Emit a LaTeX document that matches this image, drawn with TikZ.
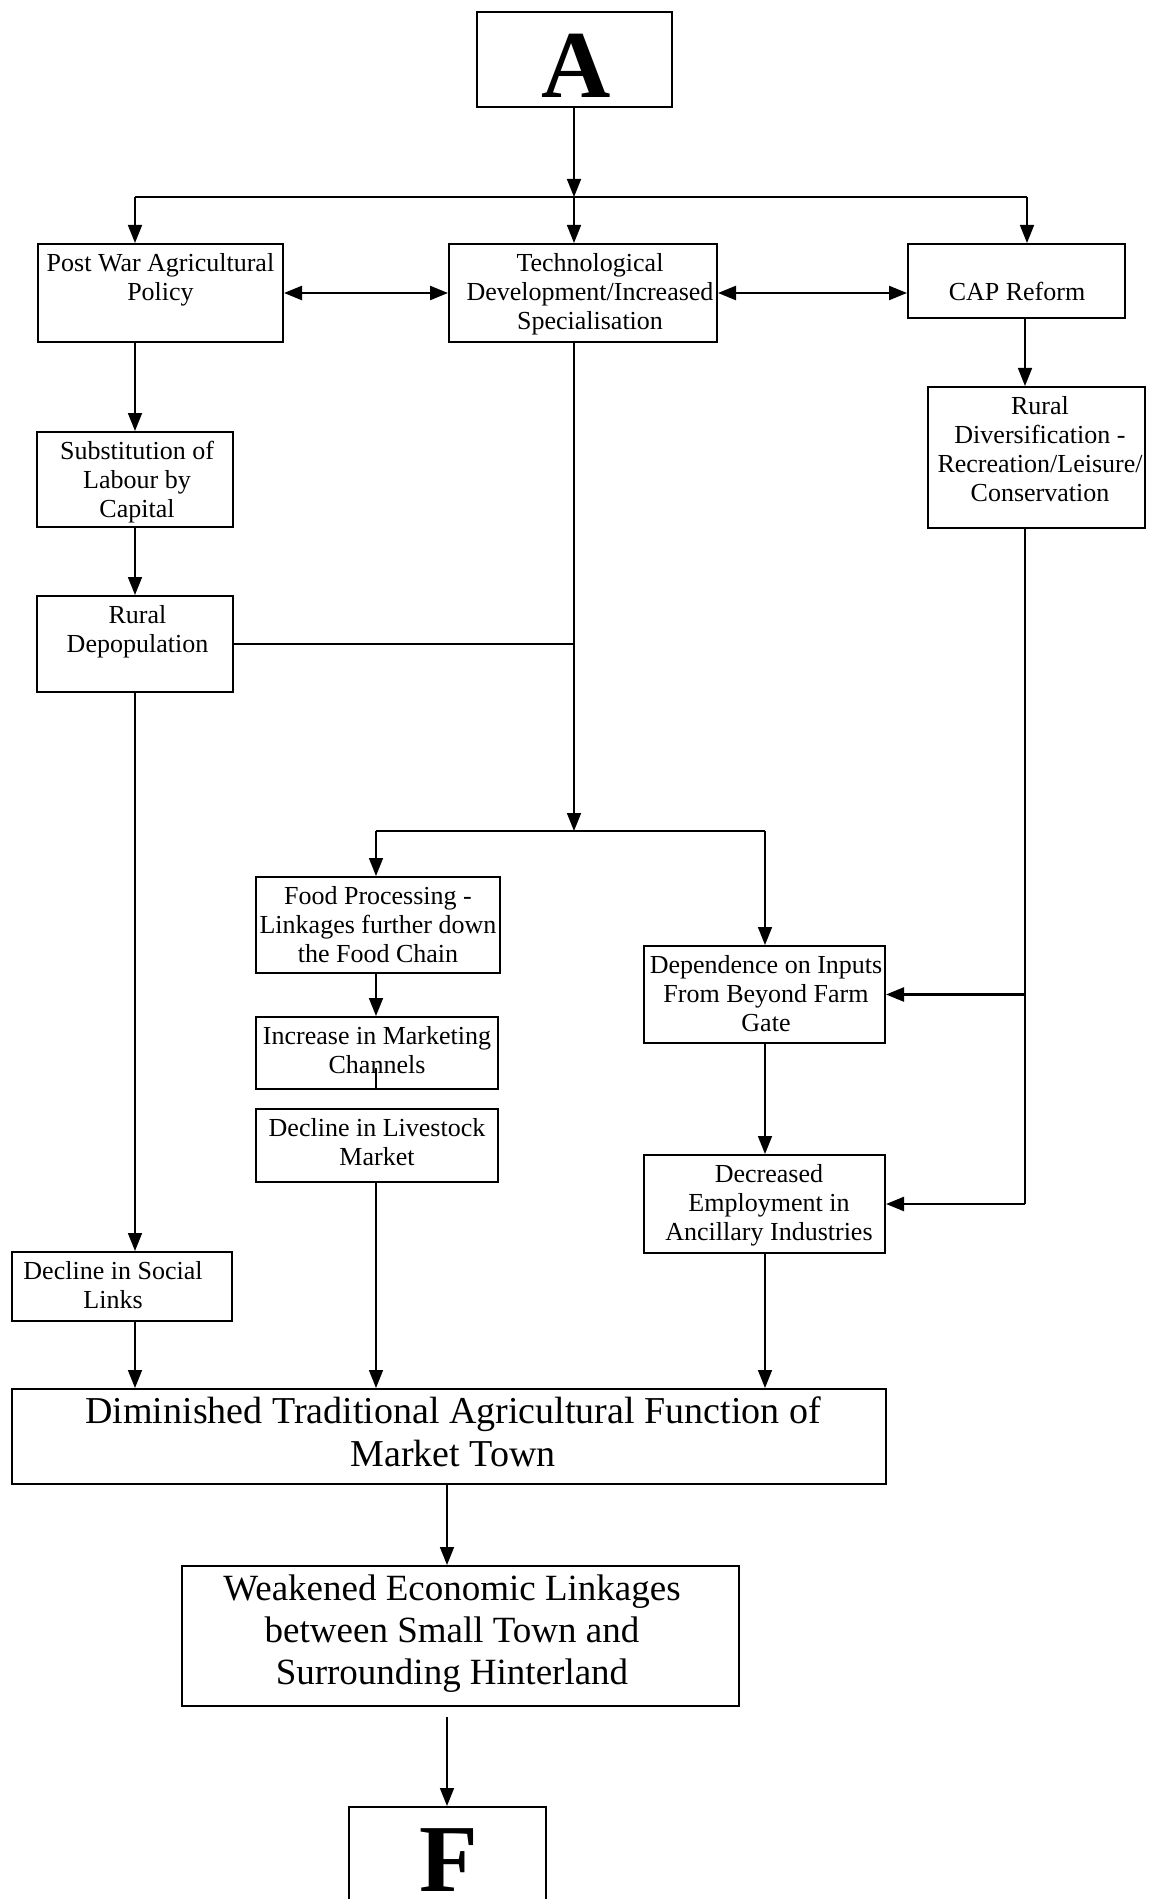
\documentclass[tikz,border=0pt]{standalone}
\usepackage{fontspec}
\setmainfont{Liberation Serif}
\usetikzlibrary{arrows.meta}
% struts fixing the first baseline below the top of each box
\newcommand\boxstrut{\rule{0pt}{13.5pt}}
\newcommand\wideboxstrut{\rule{0pt}{17pt}}
\begin{document}
\begin{tikzpicture}[x=0.5pt,y=-0.5pt,
  box/.style={draw, rectangle, line width=1pt, inner sep=0pt},
  small/.style={align=center, inner sep=0pt, anchor=north,
    font=\fontsize{13}{14.5}\selectfont},
  big/.style={align=center, inner sep=0pt, anchor=north},
  letter/.style={anchor=base, inner sep=0pt,
    font=\fontsize{48}{48}\selectfont\bfseries},
  link/.style={line width=0.8pt},
  hlink/.style={line width=1.2pt},
  arr/.style={-{Triangle[length=9pt,width=7pt]}},
  darr/.style={{Triangle[length=9pt,width=7pt]}-{Triangle[length=9pt,width=7pt]}},
]
\useasboundingbox (0,0) rectangle (1148,1899);

% ---- boxes ----
\node[box, minimum width=97.5pt, minimum height=47.5pt]  (A)     at (574,59.5)    {};
\node[box, minimum width=122.5pt, minimum height=49pt]   (pw)    at (160.5,293)   {};
\node[box, minimum width=134pt, minimum height=49pt]     (tech)  at (583,293)     {};
\node[box, minimum width=108.5pt, minimum height=37pt]   (cap)   at (1016.5,281)  {};
\node[box, minimum width=98pt, minimum height=47.5pt]    (subst) at (135,479.5)   {};
\node[box, minimum width=98pt, minimum height=48pt]      (depop) at (135,644)     {};
\node[box, minimum width=108.5pt, minimum height=70.5pt] (rdiv)  at (1036.5,457.5){};
\node[box, minimum width=122pt, minimum height=48pt]     (food)  at (378,925)     {};
\node[box, minimum width=120.5pt, minimum height=48.5pt] (dep)   at (764.5,994.5) {};
\node[box, minimum width=121pt, minimum height=36pt]     (inc)   at (377,1053)    {};
\node[box, minimum width=121pt, minimum height=36.5pt]   (liv)   at (377,1145.5)  {};
\node[box, minimum width=120.5pt, minimum height=49pt]   (decr)  at (764.5,1204)  {};
\node[box, minimum width=110pt, minimum height=34.5pt]   (soc)   at (122,1286.5)  {};
\node[box, minimum width=437pt, minimum height=47.5pt]   (dim)   at (449,1436.5)  {};
\node[box, minimum width=278.5pt, minimum height=70pt]   (weak)  at (460.5,1636)  {};
\node[box, minimum width=98.5pt, minimum height=47.5pt]  (F)     at (447.5,1854.5){};

% ---- texts ----
\node[letter] (At) at (576,98) {A};
\node[small] (pwt)    at (160.5,244) {\boxstrut Post War Agricultural\\Policy};
\node[small] (techt)  at (590,244)   {\boxstrut Technological\\Development/Increased\\Specialisation};
\node[small, yshift=-14.5pt] (capt) at (1017,244) {\boxstrut CAP Reform};
\node[small] (substt) at (137,432)   {\boxstrut Substitution of\\Labour by\\Capital};
\node[small] (depopt) at (137.5,596) {\boxstrut Rural\\Depopulation};
\node[small] (rdivt)  at (1040,387)  {\boxstrut Rural\\Diversification -\\Recreation/Leisure/\\Conservation};
\node[small] (foodt)  at (378,877)   {\boxstrut Food Processing -\\Linkages further down\\the Food Chain};
\node[small] (dept)   at (766,946)   {\boxstrut Dependence on Inputs\\From Beyond Farm\\Gate};
\node[small] (inct)   at (377,1017)  {\boxstrut Increase in Marketing\\Channels};
\node[small] (livt)   at (377,1109)  {\boxstrut Decline in Livestock\\Market};
\node[small] (decrt)  at (769,1155)  {\boxstrut Decreased\\Employment in\\Ancillary Industries};
\node[small] (soct)   at (113,1252)  {\boxstrut Decline in Social\\Links};
\node[big, font=\fontsize{19}{21.5}\selectfont] (dimt) at (453,1389)
  {\wideboxstrut Diminished Traditional Agricultural Function of\\Market Town};
\node[big, font=\fontsize{18.5}{21}\selectfont] (weakt) at (452,1566)
  {\wideboxstrut Weakened Economic Linkages\\between Small Town and\\Surrounding Hinterland};
\node[letter] (Ft) at (449,1891) {F};

% ---- junction points ----
\coordinate (split) at (574,197);
\coordinate (jl)    at (135,197);
\coordinate (jr)    at (1027,197);
\coordinate (tdown) at (574,831);
\coordinate (bl)    at (376,831);
\coordinate (br)    at (765,831);
\coordinate (chn)   at (376,1068);
\coordinate (rx)    at (1025,0);
\coordinate (rb)    at (1025,1204);
\coordinate (mx)    at (447,0);

% ---- connectors ----
\draw[link,arr] (A.south) -- (split);
\draw[hlink] (jl) -- (jr);
\draw[link,arr] (jl) -- (jl |- pw.north);
\draw[link,arr] (split) -- (split |- tech.north);
\draw[link,arr] (jr) -- (jr |- cap.north);
\draw[hlink,darr] (pw.east) -- (tech.west);
\draw[hlink,darr] (tech.east) -- (tech.east -| cap.west);

\draw[link,arr] (subst.north |- pw.south) -- (subst.north);
\draw[link,arr] (subst.south) -- (depop.north);
\draw[link,arr] (depop.south) -- (depop.south |- soc.north);
\draw[link,arr] (depop.south |- soc.south) -- (depop.south |- dim.north);

\draw[hlink] (depop.east) -- (depop.east -| tdown);
\draw[link,arr] (split |- tech.south) -- (tdown);
\draw[hlink] (bl) -- (br);
\draw[link,arr] (bl) -- (bl |- food.north);
\draw[link,arr] (br) -- (br |- dep.north);
\draw[link,arr] (bl |- food.south) -- (bl |- inc.north);
\draw[link] (bl |- inc.south) -- (chn);
\draw[link,arr] (bl |- liv.south) -- (bl |- dim.north);
\draw[link,arr] (br |- dep.south) -- (br |- decr.north);
\draw[link,arr] (br |- decr.south) -- (br |- dim.north);

\draw[link,arr] (rx |- cap.south) -- (rx |- rdiv.north);
\draw[link] (rx |- rdiv.south) -- (rb);
\draw[hlink,arr] (rx |- dep.east) -- (dep.east);
\draw[hlink,arr] (rb) -- (rb -| decr.east);

\draw[link,arr] (mx |- dim.south) -- (mx |- weak.north);
\draw[link,arr,shorten <=5pt] (mx |- weak.south) -- (mx |- F.north);
\end{tikzpicture}
\end{document}
